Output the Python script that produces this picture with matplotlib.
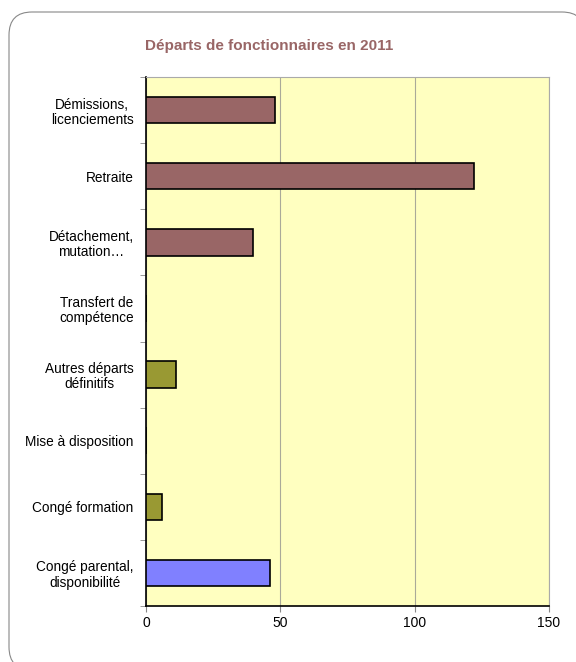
import matplotlib
matplotlib.use("Agg")
import matplotlib.pyplot as plt
from matplotlib.patches import FancyBboxPatch
import numpy as np

plt.rcParams['font.family'] = ['Liberation Sans', 'DejaVu Sans']

categories = ["Démissions,\nlicenciements", "Retraite", "Détachement,\nmutation…",
              "Transfert de\ncompétence", "Autres départs\ndéfinitifs", "Mise à disposition",
              "Congé formation", "Congé parental,\ndisponibilité"]
values = [48, 122, 40, 0, 11, 0, 6, 46]
colors = ["#996666", "#996666", "#996666", "#996666", "#999933", "#999933", "#999933", "#8080FF"]
xticks = [0, 50, 100, 150]

fig = plt.figure(figsize=(5.76, 6.62), dpi=100)
border = FancyBboxPatch((9/576, -8/662), 1.0, (662 - 12 + 8)/662, boxstyle="round,pad=0,rounding_size=0.04",
                        transform=fig.transFigure, facecolor="white", edgecolor="#888888",
                        linewidth=0.8, mutation_aspect=576/662, zorder=-10)
fig.patches.append(border)

ax = fig.add_axes([146/576, 1 - 606/662, (549 - 146)/576, (606 - 77)/662])
ax.set_zorder(5)
ax.set_facecolor("#FFFFC0")
y = np.arange(len(categories))
ax.barh(y, values, height=0.4, color=colors, edgecolor="black", linewidth=1.2, zorder=3)
ax.set_ylim(len(categories) - 0.5, -0.5)
ax.set_xlim(0, 150)
ax.set_xticks(xticks)
ax.set_xticklabels([str(v) for v in xticks], fontsize=10)
ax.set_yticks(y)
ax.set_yticklabels(categories, fontsize=9.8, multialignment='center', linespacing=1.1)
ax.tick_params(axis='y', length=0, pad=9)
ax.set_yticks(np.arange(-0.5, len(categories), 1), minor=True)
ax.tick_params(axis='y', which='minor', length=4, color="#888888")
ax.tick_params(axis='x', length=4, color="#888888")
ax.xaxis.grid(True, color="#AAAA99", linewidth=0.8, zorder=0)
for s in ["top", "right"]:
    ax.spines[s].set_color("#AAAAAA")
    ax.spines[s].set_linewidth(0.8)
for s in ["left", "bottom"]:
    ax.spines[s].set_color("black")
    ax.spines[s].set_linewidth(1.2)

fig.text(269/576, 1 - 46/662, "Départs de fonctionnaires en 2011", ha="center", va="center",
         fontsize=11, fontweight="bold", color="#996666")

fig.savefig("out.png", dpi=100)
